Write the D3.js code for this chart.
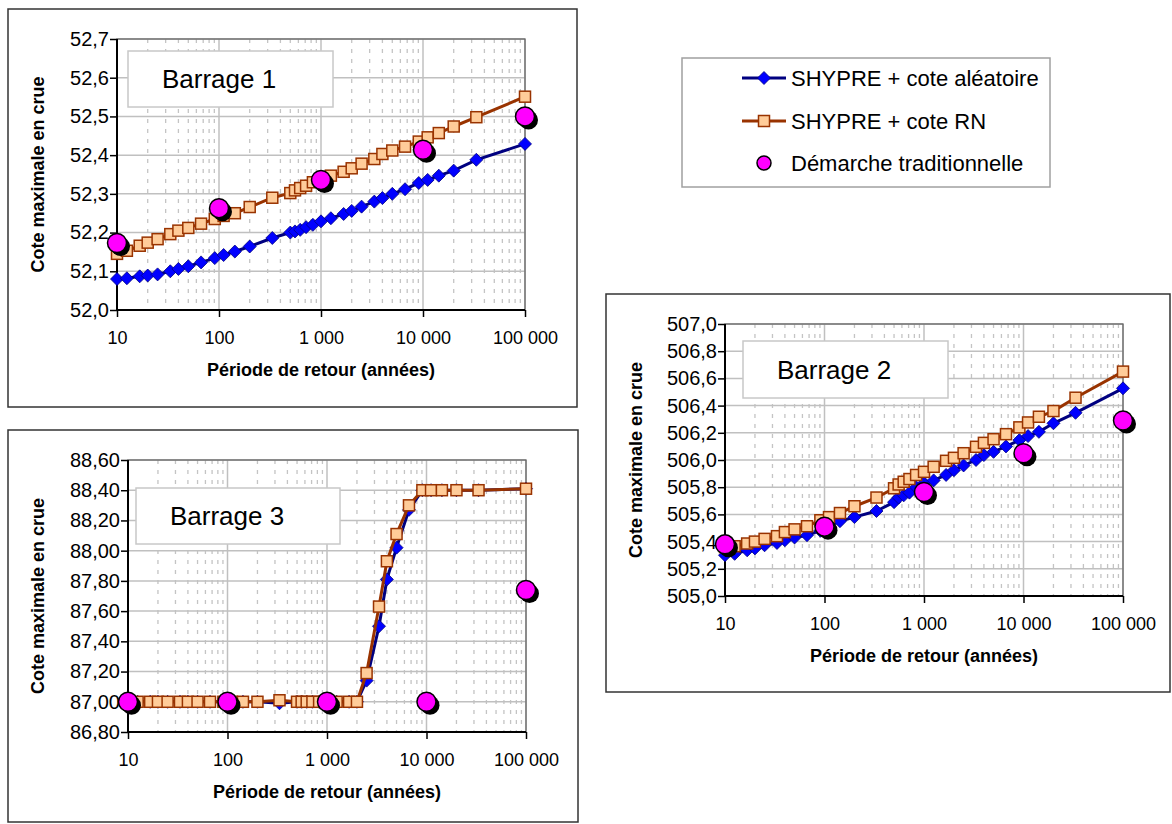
<!DOCTYPE html>
<html><head><meta charset="utf-8">
<script src="https://cdn.jsdelivr.net/npm/d3@7"></script>
<style>
html,body{margin:0;padding:0;background:#fff;}
svg{display:block;font-family:"Liberation Sans",Arial,sans-serif;}
</style></head>
<body><svg id="c" width="1172" height="824"></svg>
<script>
// ---------------- DATA ----------------
const returnPeriods = [10, 12.5, 16.7, 20, 25, 33.3, 40, 50, 66.7, 90.9, 111, 143, 200, 333, 500, 556, 625, 714, 833, 1000, 1250, 1667, 2000, 2500, 3333, 4000, 5000, 6667, 9091, 11111, 14286, 20000, 33333, 100000];
const tradPeriods = [10, 100, 1000, 10000, 100000];

const b1Aleatoire = [52.080, 52.082, 52.087, 52.089, 52.092, 52.100, 52.106, 52.113, 52.123, 52.134, 52.142, 52.151, 52.164, 52.186, 52.200, 52.203, 52.207, 52.214, 52.220, 52.229, 52.237, 52.248, 52.256, 52.267, 52.280, 52.289, 52.300, 52.312, 52.328, 52.336, 52.347, 52.360, 52.388, 52.429];
const b1RN = [52.145, 52.153, 52.166, 52.174, 52.183, 52.196, 52.205, 52.212, 52.223, 52.235, 52.243, 52.250, 52.266, 52.290, 52.302, 52.309, 52.315, 52.321, 52.330, 52.336, 52.347, 52.357, 52.366, 52.378, 52.390, 52.403, 52.412, 52.422, 52.435, 52.446, 52.457, 52.474, 52.498, 52.551];
const b1Trad = [52.173, 52.263, 52.336, 52.414, 52.500];

const b2Aleatoire = [505.300, 505.310, 505.336, 505.350, 505.373, 505.390, 505.410, 505.430, 505.447, 505.480, 505.513, 505.550, 505.580, 505.625, 505.690, 505.724, 505.740, 505.760, 505.800, 505.830, 505.850, 505.890, 505.925, 505.960, 506.000, 506.036, 506.060, 506.100, 506.146, 506.176, 506.207, 506.270, 506.347, 506.527];
const b2RN = [505.360, 505.366, 505.386, 505.400, 505.420, 505.440, 505.470, 505.490, 505.513, 505.557, 505.580, 505.610, 505.660, 505.724, 505.792, 505.820, 505.840, 505.860, 505.890, 505.913, 505.950, 505.994, 506.016, 506.050, 506.097, 506.126, 506.153, 506.190, 506.240, 506.276, 506.318, 506.360, 506.458, 506.650];
const b2Trad = [505.38, 505.51, 505.765, 506.05, 506.29];

const b3Aleatoire = [87.00, 87.00, 87.00, 87.00, 87.00, 87.00, 87.00, 87.00, 87.00, 87.00, 87.00, 87.00, 87.00, 86.99, 87.00, 87.00, 87.00, 87.00, 87.00, 87.00, 87.00, 87.00, 87.00, 87.14, 87.50, 87.81, 88.02, 88.27, 88.40, 88.40, 88.40, 88.40, 88.40, 88.41];
const b3RN = [87.00, 87.00, 87.00, 87.00, 87.00, 87.00, 87.00, 87.00, 87.00, 87.00, 87.00, 87.00, 87.00, 87.01, 87.00, 87.00, 87.00, 87.00, 87.00, 87.00, 87.00, 87.00, 87.00, 87.19, 87.63, 87.93, 88.11, 88.30, 88.40, 88.40, 88.40, 88.40, 88.40, 88.41];
const b3Trad = [87.00, 87.00, 87.00, 87.00, 87.74];

const xTickValues = [10, 100, 1000, 10000, 100000];
const xTickLabels = ["10", "100", "1 000", "10 000", "100 000"];
const yTicks1 = [52.0, 52.1, 52.2, 52.3, 52.4, 52.5, 52.6, 52.7];
const yLabels1 = ["52,0", "52,1", "52,2", "52,3", "52,4", "52,5", "52,6", "52,7"];
const yTicks2 = [505.0, 505.2, 505.4, 505.6, 505.8, 506.0, 506.2, 506.4, 506.6, 506.8, 507.0];
const yLabels2 = ["505,0", "505,2", "505,4", "505,6", "505,8", "506,0", "506,2", "506,4", "506,6", "506,8", "507,0"];
const yTicks3 = [86.8, 87.0, 87.2, 87.4, 87.6, 87.8, 88.0, 88.2, 88.4, 88.6];
const yLabels3 = ["86,80", "87,00", "87,20", "87,40", "87,60", "87,80", "88,00", "88,20", "88,40", "88,60"];

const seriesNames = ["SHYPRE + cote aléatoire", "SHYPRE + cote RN", "Démarche traditionnelle"];
const xTitle = "Période de retour (années)";
const yTitle = "Cote maximale en crue";

// ---------------- STYLE / LAYOUT ----------------
const C = {
  blueLine: "#000080", blueFill: "#0000FF",
  orLine: "#993300", orFill: "#FFCC99",
  pink: "#FF00FF", grid: "#c0c0c0", frame: "#333"
};
const charts = [
  {title: "Barrage 1", a: b1Aleatoire, r: b1RN, t: b1Trad, yt: yTicks1, yl: yLabels1,
   frame: {x: 8, y: 9, w: 569, h: 398}, plot: {x0: 117, x1: 525, y0: 39, y1: 310}, box: {x: 128, y: 51, w: 205, h: 56}},
  {title: "Barrage 2", a: b2Aleatoire, r: b2RN, t: b2Trad, yt: yTicks2, yl: yLabels2,
   frame: {x: 606, y: 294, w: 564, h: 398}, plot: {x0: 725, x1: 1123, y0: 324, y1: 596}, box: {x: 743, y: 341, w: 205, h: 57}},
  {title: "Barrage 3", a: b3Aleatoire, r: b3RN, t: b3Trad, yt: yTicks3, yl: yLabels3,
   frame: {x: 8, y: 430, w: 570, h: 392}, plot: {x0: 128, x1: 526, y0: 460, y1: 732}, box: {x: 136, y: 488, w: 204, h: 56}}
];

const svg = d3.select("#c");
svg.append("rect").attr("width", 1172).attr("height", 824).attr("fill", "#fff");

const diamondPath = "M0,-6.5L6.5,0L0,6.5L-6.5,0Z";
const SQ = 11;

function drawChart(cfg) {
  const g = svg.append("g");
  const f = cfg.frame, p = cfg.plot;
  g.append("rect").attr("x", f.x).attr("y", f.y).attr("width", f.w).attr("height", f.h)
    .attr("fill", "#fff").attr("stroke", C.frame).attr("stroke-width", 1.5);

  const x = d3.scaleLog().domain([10, 100000]).range([p.x0, p.x1]);
  const yt = cfg.yt;
  const y = d3.scaleLinear().domain([yt[0], yt[yt.length - 1]]).range([p.y1, p.y0]);

  // minor vertical grid
  const minor = [];
  xTickValues.slice(0, -1).forEach(d => { for (let k = 2; k <= 9; k++) minor.push(k * d); });
  g.selectAll(".minor").data(minor).enter().append("line")
    .attr("x1", d => x(d)).attr("x2", d => x(d)).attr("y1", p.y0).attr("y2", p.y1)
    .attr("stroke", "#c4c4c4").attr("stroke-width", 1.3).attr("stroke-dasharray", "4,6");
  // major grid
  g.selectAll(".vmaj").data(xTickValues).enter().append("line")
    .attr("x1", d => x(d)).attr("x2", d => x(d)).attr("y1", p.y0).attr("y2", p.y1)
    .attr("stroke", C.grid).attr("stroke-width", 1.5);
  g.selectAll(".hmaj").data(yt).enter().append("line")
    .attr("x1", p.x0).attr("x2", p.x1).attr("y1", d => y(d)).attr("y2", d => y(d))
    .attr("stroke", C.grid).attr("stroke-width", 1.5);
  // plot border
  g.append("rect").attr("x", p.x0).attr("y", p.y0).attr("width", p.x1 - p.x0).attr("height", p.y1 - p.y0)
    .attr("fill", "none").attr("stroke", "#666").attr("stroke-width", 1.3);

  // axes
  const yAxis = d3.axisLeft(y).tickValues(yt).tickSize(7).tickFormat((d, i) => cfg.yl[i]);
  const ya = g.append("g").attr("transform", `translate(${p.x0},0)`).call(yAxis);
  const xAxis = d3.axisBottom(x).tickValues(xTickValues).tickSize(7).tickFormat((d, i) => xTickLabels[i]);
  const xa = g.append("g").attr("transform", `translate(0,${p.y1})`).call(xAxis);
  [ya, xa].forEach(a => {
    a.select(".domain").attr("stroke", "#000").attr("stroke-width", 2);
    a.selectAll(".tick line").attr("stroke", "#000").attr("stroke-width", 1.5);
    a.selectAll(".tick text").attr("fill", "#000").attr("font-size", 18)
      .attr("font-family", '"Liberation Sans",Arial,sans-serif');
  });
  ya.select(".domain").attr("d", `M0,${p.y1}V${p.y0}`);
  xa.select(".domain").attr("d", `M${p.x0},0H${p.x1}`);
  ya.selectAll(".tick text").attr("x", -8).attr("font-size", 20);
  xa.selectAll(".tick text").attr("y", 0).attr("dy", 0).attr("transform", "translate(0,34)");

  // titles
  g.append("text").attr("x", (p.x0 + p.x1) / 2).attr("y", p.y1 + 66).attr("text-anchor", "middle")
    .attr("font-size", 18).attr("font-weight", "bold").text(xTitle);
  g.append("text").attr("transform", `translate(${f.x + 30},${(p.y0 + p.y1) / 2}) rotate(-90)`)
    .attr("text-anchor", "middle").attr("dy", "0.35em")
    .attr("font-size", 18).attr("font-weight", "bold").text(yTitle);

  // label box
  const b = cfg.box;
  g.append("rect").attr("x", b.x).attr("y", b.y).attr("width", b.w).attr("height", b.h)
    .attr("fill", "#fff").attr("stroke", "#c8c8c8").attr("stroke-width", 1.5);
  g.append("text").attr("x", b.x + 34).attr("y", b.y + b.h / 2).attr("dy", "0.36em")
    .attr("font-size", 26).text(cfg.title);

  // series
  const lineGen = d3.line().x(d => x(d[0])).y(d => y(d[1]));
  const ptsA = returnPeriods.map((t, i) => [t, cfg.a[i]]);
  const ptsR = returnPeriods.map((t, i) => [t, cfg.r[i]]);
  const ptsT = tradPeriods.map((t, i) => [t, cfg.t[i]]);

  g.append("path").attr("d", lineGen(ptsA)).attr("fill", "none").attr("stroke", C.blueLine).attr("stroke-width", 3);
  g.selectAll(".dia").data(ptsA).enter().append("path").attr("d", diamondPath)
    .attr("transform", d => `translate(${x(d[0])},${y(d[1])})`)
    .attr("fill", C.blueFill).attr("stroke", C.blueLine).attr("stroke-width", 0.8);

  g.append("path").attr("d", lineGen(ptsR)).attr("fill", "none").attr("stroke", C.orLine).attr("stroke-width", 3);
  g.selectAll(".sq").data(ptsR).enter().append("rect")
    .attr("x", d => x(d[0]) - SQ / 2).attr("y", d => y(d[1]) - SQ / 2).attr("width", SQ).attr("height", SQ)
    .attr("fill", C.orFill).attr("stroke", C.orLine).attr("stroke-width", 1.5);

  g.selectAll(".sh").data(ptsT).enter().append("circle")
    .attr("cx", d => x(d[0]) + 3.5).attr("cy", d => y(d[1]) + 3.5).attr("r", 9.5).attr("fill", "#000");
  g.selectAll(".pk").data(ptsT).enter().append("circle")
    .attr("cx", d => x(d[0])).attr("cy", d => y(d[1])).attr("r", 9.5)
    .attr("fill", C.pink).attr("stroke", "#000").attr("stroke-width", 1.5);
}
charts.forEach(drawChart);

// legend
const lg = svg.append("g");
lg.append("rect").attr("x", 682).attr("y", 58).attr("width", 368).attr("height", 129)
  .attr("fill", "#fff").attr("stroke", "#a0a0a0").attr("stroke-width", 1.5);
const rows = [78, 121, 163];
lg.append("line").attr("x1", 742).attr("x2", 786).attr("y1", rows[0]).attr("y2", rows[0]).attr("stroke", C.blueLine).attr("stroke-width", 3);
lg.append("path").attr("d", diamondPath).attr("transform", `translate(764,${rows[0]})`).attr("fill", C.blueFill).attr("stroke", C.blueLine).attr("stroke-width", 0.8);
lg.append("line").attr("x1", 742).attr("x2", 786).attr("y1", rows[1]).attr("y2", rows[1]).attr("stroke", C.orLine).attr("stroke-width", 3);
lg.append("rect").attr("x", 764 - SQ / 2).attr("y", rows[1] - SQ / 2).attr("width", SQ).attr("height", SQ).attr("fill", C.orFill).attr("stroke", C.orLine).attr("stroke-width", 1.5);
lg.append("circle").attr("cx", 764).attr("cy", rows[2]).attr("r", 7).attr("fill", C.pink).attr("stroke", "#000").attr("stroke-width", 1.5);
lg.selectAll(".lt").data(seriesNames).enter().append("text")
  .attr("x", 791).attr("y", (d, i) => rows[i]).attr("dy", "0.36em").attr("font-size", 22).text(d => d);
</script>
</body></html>
